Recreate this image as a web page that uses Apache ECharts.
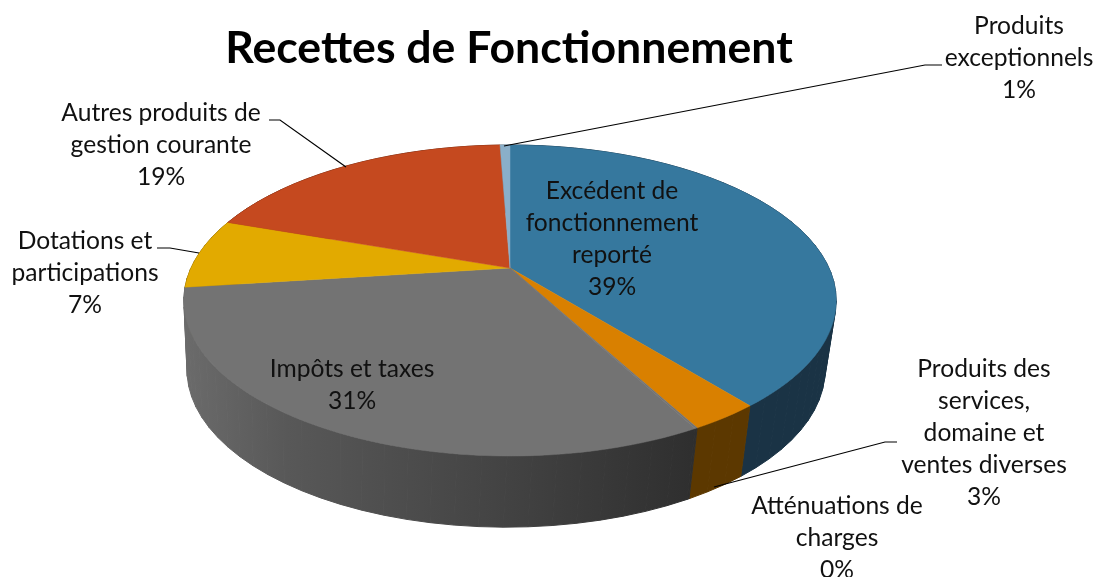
<!DOCTYPE html>
<html><head><meta charset="utf-8">
<style>html,body{margin:0;padding:0;background:#fff}#c{width:1106px;height:577px}</style>
<script src="https://cdn.jsdelivr.net/npm/echarts@6/dist/echarts.min.js"></script>
</head><body><div id="c"></div>
<script>
const titleText = 'Recettes de Fonctionnement';
const categories = ['Excédent de\nfonctionnement\nreporté','Produits des\nservices,\ndomaine et\nventes diverses','Atténuations de\ncharges','Impôts et taxes','Dotations et\nparticipations','Autres produits de\ngestion courante','Produits\nexceptionnels'];
const values = [39.15, 2.9, 0.1, 30.85, 7.3, 19.1, 0.6];
const topColors = ['#36789e','#d98000','#737373','#737373','#e2aa00','#c5491f','#8aafc9'];
const wallStops = [
  [[0,'#1a3345'],[1,'#1a3345']],
  [[0,'#5c3800'],[1,'#5c3800']],
  [[0,'#2e2e2e'],[1,'#2e2e2e']],
  [[0,'#6b6b6b'],[0.2,'#585858'],[0.6,'#444444'],[1,'#2e2e2e']],
  [[0,'#6e5400'],[1,'#6e5400']],
  [[0,'#62240f'],[1,'#62240f']],
  [[0,'#455864'],[1,'#455864']]
];
// label anchor: centre x, top y of the first line
const labelPos = [[612,175],[984,353],[837,490],[352,353],[85,225],[161,97],[1019,10]];
const leaders = [null,[[897,442],[885,442],[714,487]],null,null,[[157,248],[170,248],[199,253]],[[269,120],[280,120],[346,167]],[[942,65],[925,65],[504,146]]];

// perspective projection of the pie disc
const C = -0.209;
const topFace = {x0:510, R:319, a:92.7, b:268};
const botFace = {x0:506, R:312, a:80, b:337};
function project(face, pct){
  const th = pct/100*2*Math.PI, s = Math.sin(th), t = -Math.cos(th), den = 1 + C*t;
  return [face.x0 + face.R*s/den, (face.a*t + face.b)/den];
}
const total = values.reduce((a,b)=>a+b,0);
const starts = []; let acc = 0;
values.forEach(v=>{ starts.push(acc/total*100); acc += v; });
const seriesData = values.map((v,i)=>[starts[i], v/total*100, i]);
// side walls are painted from the back of the pie towards the front
const wallData = seriesData.slice().sort((p,q)=>Math.abs(q[0]+q[1]/2-50)-Math.abs(p[0]+p[1]/2-50));

function arc(face, a, b){
  const n = Math.max(2, Math.ceil((b-a)*2)), pts = [];
  for(let k=0;k<=n;k++) pts.push(project(face, a+(b-a)*k/n));
  return pts;
}
function renderTop(params, api){
  const a = api.value(0), b = a + api.value(1), i = api.value(2);
  const apex = [topFace.x0, topFace.b];
  return {type:'polygon', shape:{points:[apex].concat(arc(topFace,a,b))},
    style:{fill:topColors[i], stroke:topColors[i], lineWidth:0.5}};
}
function renderWall(params, api){
  const a = api.value(0), b = a + api.value(1), i = api.value(2);
  const fill = new echarts.graphic.LinearGradient(184,0,700,0,
    wallStops[i].map(s=>({offset:s[0],color:s[1]})), true);
  const children = [];
  const n = Math.max(1, Math.ceil(b-a));
  for(let k=0;k<n;k++){
    const p = a+(b-a)*k/n, q = a+(b-a)*(k+1)/n;
    children.push({type:'polygon', shape:{points:[project(topFace,p),project(topFace,q),project(botFace,q),project(botFace,p)]},
      style:{fill:fill, stroke:fill, lineWidth:1}});
  }
  return {type:'group', children};
}
const FONT = '24.6px Lato, "Noto Sans", sans-serif';
const graphics = [{type:'text', z:10, style:{text:titleText, x:509, y:26, align:'center', verticalAlign:'top', fill:'#000', font:'bold 44.6px Lato, "Noto Sans", sans-serif'}}];
categories.forEach((name,i)=>{
  const pct = Math.round(values[i]/total*100);
  graphics.push({type:'text', z:10, style:{text:name+'\n'+pct+'%', x:labelPos[i][0], y:labelPos[i][1], align:'center', verticalAlign:'top', lineHeight:32, fill:'#111', font:FONT}});
  if(leaders[i]) graphics.push({type:'polyline', z:10, shape:{points:leaders[i]}, style:{fill:'none', stroke:'#000', lineWidth:1.2}});
});
const chart = echarts.init(document.getElementById('c'), null, {renderer:'canvas'});
chart.setOption({
  animation:false, backgroundColor:'#fff',
  series:[
    {type:'custom', coordinateSystem:'none', renderItem:renderWall, data:wallData, z:1, silent:true},
    {type:'custom', coordinateSystem:'none', renderItem:renderTop, data:seriesData, z:2, silent:true}
  ],
  graphic:graphics
});
</script></body></html>
